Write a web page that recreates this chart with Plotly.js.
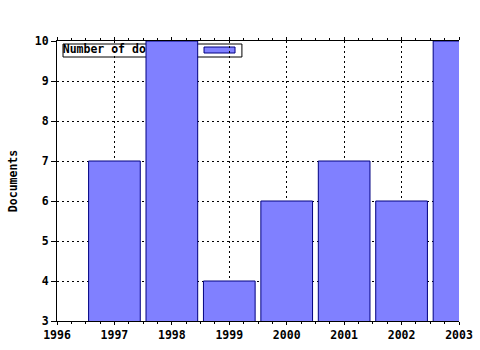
<!DOCTYPE html>
<html>
<head>
<meta charset="utf-8">
<script src="https://cdn.plot.ly/plotly-3.0.1.min.js"></script>
<style>html,body{margin:0;padding:0;background:#fff;}#chart{width:480px;height:350px;}</style>
</head>
<body>
<div id="chart"></div>
<script>
const years = [1997, 1998, 1999, 2000, 2001, 2002, 2003];
const documents = [7, 10, 4, 6, 7, 6, 10];
const seriesName = 'Number of documents';
const yTitle = 'Documents';
const xRange = [1996, 2003];
const yRange = [3, 10];

const FONT = {family: 'DejaVu Sans Mono, Liberation Mono, monospace', size: 11.5, color: '#000', weight: 'bold'};

// legend placement (data units of the main axes)
const legBox = {x0: 1996.105, x1: 1999.22, y0: 9.6, y1: 9.925};
const legSwatch = {x0: 1998.56, x1: 1999.1, y0: 9.7, y1: 9.85};
const legText = {x: 1996.1, y: 9.76};

const data = [
  {
    type: 'scatter', mode: 'text', x: [legText.x], y: [legText.y],
    text: [seriesName], textposition: 'middle right',
    textfont: {family: FONT.family, size: 11.5, color: '#000', weight: 'bold'},
    showlegend: false, hoverinfo: 'skip', xaxis: 'x', yaxis: 'y', cliponaxis: false
  },
  {
    type: 'bar', x: years, y: documents, width: 0.9, name: seriesName,
    marker: {color: '#8080ff', line: {color: '#000080', width: 1}},
    xaxis: 'x2', yaxis: 'y2', showlegend: false
  }
];

const layout = {
  width: 480, height: 350,
  margin: {l: 57, r: 21, t: 41, b: 29, pad: 0},
  paper_bgcolor: '#fff', plot_bgcolor: '#fff',
  font: FONT,
  showlegend: false,
  xaxis: {
    range: xRange, dtick: 1, tick0: 1996, tickformat: 'd',
    showline: true, linecolor: '#000', linewidth: 1, mirror: 'ticks',
    ticks: 'outside', ticklen: 3, tickcolor: '#000',
    minor: {dtick: 0.25, tick0: 1996, ticks: 'outside', ticklen: 2, tickcolor: '#000', showgrid: false},
    showgrid: true, gridcolor: '#000', griddash: '2px,3px', gridwidth: 1,
    zeroline: false, tickfont: FONT, fixedrange: true
  },
  yaxis: {
    range: yRange, dtick: 1, tick0: 3,
    showline: true, linecolor: '#000', linewidth: 1,
    ticks: 'outside', ticklen: 5, tickcolor: '#000',
    showgrid: true, gridcolor: '#000', griddash: '2px,3px', gridwidth: 1,
    zeroline: false, tickfont: FONT, fixedrange: true,
    title: {text: yTitle, font: FONT, standoff: 14}
  },
  xaxis2: {
    overlaying: 'x', range: xRange, showgrid: false, showline: false,
    showticklabels: false, ticks: '', zeroline: false, fixedrange: true
  },
  yaxis2: {
    overlaying: 'y', range: yRange, showgrid: false, showline: false,
    showticklabels: false, ticks: '', zeroline: false, fixedrange: true
  },
  shapes: [
    {type: 'rect', xref: 'x', yref: 'y', layer: 'below',
     x0: legBox.x0, x1: legBox.x1, y0: legBox.y0, y1: legBox.y1,
     fillcolor: '#fff', line: {color: '#000', width: 1}},
    {type: 'rect', xref: 'x', yref: 'y', layer: 'below',
     x0: legSwatch.x0, x1: legSwatch.x1, y0: legSwatch.y0, y1: legSwatch.y1,
     fillcolor: '#8080ff', line: {color: '#000080', width: 1}}
  ]
};

Plotly.newPlot('chart', data, layout, {staticPlot: true, displayModeBar: false});
</script>
</body>
</html>
